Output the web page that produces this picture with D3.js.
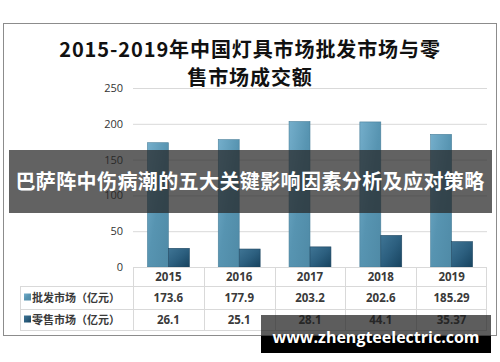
<!DOCTYPE html>
<html>
<head>
<meta charset="utf-8">
<script src="https://cdn.jsdelivr.net/npm/d3@7"></script>
<style>
  body { margin: 0; background: #fff; }
  svg { display: block; }
</style>
</head>
<body>
<svg width="500" height="362"></svg>
<script>
// données
const years = ["2015", "2016", "2017", "2018", "2019"];
const wholesale = [173.6, 177.9, 203.2, 202.6, 185.29];
const retail = [26.1, 25.1, 28.1, 44.1, 35.37];
const yTicks = [0, 50, 100, 150, 200, 250];
const seriesNames = ["批发市场（亿元）", "零售市场（亿元）"];
const titleLines = ["2015-2019年中国灯具市场批发市场与零", "售市场成交额"];
const bannerText = "巴萨阵中伤病潮的五大关键影响因素分析及应对策略";
const watermark = "www.zhengteelectric.com";

const svg = d3.select("svg");
const cjk = "'Noto Sans CJK SC', 'Noto Sans', sans-serif";

// cadre extérieur
svg.append("rect")
    .attr("x", 3.5).attr("y", 23.5)
    .attr("width", 493).attr("height", 312)
    .attr("fill", "#fff")
    .attr("stroke", "#8c8c8c");

// titre
svg.append("g").selectAll("text")
    .data(titleLines)
    .enter().append("text")
    .attr("x", 250)
    .attr("y", (d, i) => 57 + i * 28)
    .attr("text-anchor", "middle")
    .attr("font-family", "'Noto Sans CJK SC', serif")
    .attr("font-weight", "bold")
    .attr("font-size", "20px")
    .attr("letter-spacing", "0.9px")
    .attr("fill", "#111")
    .text(d => d);

const x = d3.scaleBand()
    .domain(years)
    .range([133, 487]);

const xs = d3.scaleBand()
    .domain([0, 1])
    .range([0, x.bandwidth()])
    .paddingOuter(0.69);

const y = d3.scaleLinear()
    .domain([0, 250])
    .range([267, 88]);

// grille + axe Y
const yAxis = svg.append("g")
    .attr("transform", "translate(133,0)")
    .call(d3.axisLeft(y).tickValues(yTicks).tickSize(-354).tickPadding(10));
yAxis.select(".domain").remove();
yAxis.selectAll("line").attr("stroke", "#d9d9d9");
yAxis.selectAll("text")
    .attr("font-family", "'Open Sans', sans-serif")
    .attr("font-size", "11px")
    .attr("fill", "#333");

// dégradés des barres
const defs = svg.append("defs");
const grads = [
    ["g0", "#74aecb", "#5794b1", "#4f8aa6"],
    ["g1", "#3f7595", "#2c5f7f", "#17435f"]
];
grads.forEach(g => {
    const lg = defs.append("linearGradient")
        .attr("id", g[0])
        .attr("x1", "0%").attr("y1", "0%")
        .attr("x2", "100%").attr("y2", "100%");
    lg.append("stop").attr("offset", "0%").attr("stop-color", g[1]);
    lg.append("stop").attr("offset", "50%").attr("stop-color", g[2]);
    lg.append("stop").attr("offset", "100%").attr("stop-color", g[3]);
});
const strokes = ["#4a7f99", "#1f4661"];

const series = [wholesale, retail];
series.forEach((vals, s) => {
    svg.append("g")
        .selectAll("rect")
        .data(vals)
        .enter().append("rect")
        .attr("x", (d, i) => x(years[i]) + xs(s))
        .attr("y", d => y(d))
        .attr("width", xs.bandwidth())
        .attr("height", d => y(0) - y(d))
        .attr("fill", `url(#g${s})`)
        .attr("stroke", strokes[s])
        .attr("stroke-width", 0.6);
});

// tableau de données
const rowY = [267, 286, 309, 330];
const tbl = svg.append("g")
    .attr("stroke", "#d9d9d9")
    .attr("stroke-width", 1)
    .attr("fill", "none");
tbl.append("line").attr("x1", 133).attr("x2", 487).attr("y1", 267.5).attr("y2", 267.5);
rowY.slice(1).forEach(ry => {
    tbl.append("line").attr("x1", 20).attr("x2", 487).attr("y1", ry + 0.5).attr("y2", ry + 0.5);
});
tbl.append("line").attr("x1", 20.5).attr("x2", 20.5).attr("y1", 286).attr("y2", 330);
x.domain().forEach(yr => {
    tbl.append("line")
        .attr("x1", Math.round(x(yr)) + 0.5).attr("x2", Math.round(x(yr)) + 0.5)
        .attr("y1", 267).attr("y2", 330);
});
tbl.append("line").attr("x1", 486.5).attr("x2", 486.5).attr("y1", 267).attr("y2", 330);

const cellFont = "'Open Sans', sans-serif";
svg.append("g").selectAll("text")
    .data(years)
    .enter().append("text")
    .attr("x", d => x(d) + x.bandwidth() / 2)
    .attr("y", 281)
    .attr("text-anchor", "middle")
    .attr("font-family", cellFont)
    .attr("font-weight", "bold")
    .attr("font-size", "11.5px")
    .attr("fill", "#3a3a3a")
    .text(d => d);

series.forEach((vals, s) => {
    const cy = (rowY[s + 1] + rowY[s + 2]) / 2 + 4;
    svg.append("g").selectAll("text")
        .data(vals)
        .enter().append("text")
        .attr("x", (d, i) => x(years[i]) + x.bandwidth() / 2)
        .attr("y", cy)
        .attr("text-anchor", "middle")
        .attr("font-family", cellFont)
        .attr("font-weight", "bold")
        .attr("font-size", "11.5px")
        .attr("fill", "#3a3a3a")
        .text(d => d);
    // légende dans la première colonne
    svg.append("rect")
        .attr("x", 24).attr("y", cy - 8)
        .attr("width", 7).attr("height", 7)
        .attr("fill", `url(#g${s})`);
    svg.append("text")
        .attr("x", 32).attr("y", cy)
        .attr("font-family", cjk)
        .attr("font-weight", "bold")
        .attr("font-size", "11px")
        .attr("fill", "#3a3a3a")
        .text(seriesNames[s]);
});

// bandeau superposé
svg.append("rect")
    .attr("x", 9).attr("y", 150)
    .attr("width", 483).attr("height", 63)
    .attr("fill", "rgba(38,38,38,0.72)");
svg.append("text")
    .attr("x", 250).attr("y", 189)
    .attr("text-anchor", "middle")
    .attr("font-family", cjk)
    .attr("font-weight", "bold")
    .attr("font-size", "20px")
    .attr("letter-spacing", "0.4px")
    .attr("fill", "#fff")
    .text(bannerText);

// filigrane
svg.append("rect")
    .attr("x", 261).attr("y", 315)
    .attr("width", 230).attr("height", 38)
    .attr("fill", "rgba(30,30,30,0.72)");
svg.append("rect")
    .attr("x", 261).attr("y", 336)
    .attr("width", 230).attr("height", 17)
    .attr("fill", "#000");
svg.append("text")
    .attr("x", 376).attr("y", 343)
    .attr("text-anchor", "middle")
    .attr("font-family", "'Open Sans', 'DejaVu Sans', sans-serif")
    .attr("font-weight", "bold")
    .attr("font-size", "16px")
    .attr("fill", "#fff")
    .text(watermark);
</script>
</body>
</html>
